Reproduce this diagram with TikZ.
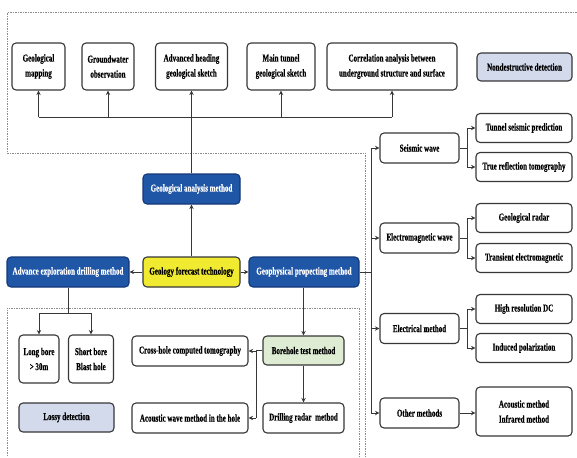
\documentclass[tikz,border=0pt]{standalone}
\usepackage{fontspec}
\setmainfont{Liberation Serif}[FakeStretch=0.67,BoldFeatures={FakeBold=0.4}]
\usepackage{tikz}
\usetikzlibrary{arrows.meta,positioning,calc}
\definecolor{darkblue}{RGB}{32,86,166}
\definecolor{edgeblue}{RGB}{20,55,120}
\definecolor{lemon}{RGB}{240,234,48}
\definecolor{palegreen}{RGB}{222,236,212}
\definecolor{paleblue}{RGB}{210,218,236}
\definecolor{framegray}{RGB}{55,55,55}
\definecolor{dashgray}{RGB}{140,140,140}

\begin{document}
\begin{tikzpicture}[x=1pt,y=-1pt,
 every node/.style={font=\fontsize{10.5}{15}\selectfont\bfseries,align=center,inner sep=2pt},
 box/.style={draw=framegray,line width=1.1pt,rounded corners=4pt,fill=white,
             minimum width=#1,minimum height=30pt},
 box/.default=79pt,
 tallbox/.style={box=#1,minimum height=47pt},
 bluebox/.style={box=#1,fill=darkblue,draw=edgeblue,text=white},
 zone/.style={draw=dashgray,line width=1pt,dash pattern=on 1.5pt off 1pt},
 arrow/.style={-{Stealth[length=4.5pt,width=4.5pt]},line width=0.9pt,draw=framegray},
 link/.style={line width=0.9pt,draw=framegray}]
 \useasboundingbox (0,0) rectangle (577,457);
 % detection zones
 \draw[zone] (365,457) -- (365,153) -- (7,153) -- (7,13) -- (577,13);
 \draw[zone] (359,457) -- (359,308) -- (7,308) -- (7,457);
 % geological analysis branch
 \node[tallbox=53pt] (map) at (38.5,66.5) {Geological\\mapping};
 \node[tallbox=52pt] (water) at (108,66.5) {Groundwater\\observation};
 \node[tallbox=72pt] (heading) at (191.5,66.5) {Advanced heading\\geological sketch};
 \node[tallbox=68pt] (tunnel) at (281,66.5) {Main tunnel\\geological sketch};
 \node[tallbox=130pt] (corr) at (392,66.5) {Correlation analysis between\\underground structure and surface};
 \node[box=95pt,minimum height=28pt,fill=paleblue] (nondes) at (524.5,67) {Nondestructive detection};
 \node[bluebox=97pt] (analysis) at (191.5,189) {Geological analysis method};
 \node[box=97pt,fill=lemon] (forecast) at (191.5,272) {Geology forecast technology};
 \node[bluebox=122pt] (drill) at (68,272) {Advance exploration drilling method};
 \node[bluebox=110pt] (geo) at (304,272) {Geophysical propecting method};
 % geophysical categories
 \node[box] (seismic) at (419.5,148) {Seismic wave};
 \node[box] (em) at (419.5,238) {Electromagnetic wave};
 \node[box] (elec) at (419.5,328.5) {Electrical method};
 \node[box] (other) at (419.5,413) {Other methods};
 \node[box=96pt,minimum height=29pt] (tsp) at (524,128) {Tunnel seismic prediction};
 \node[box=96pt,minimum height=29pt] (trt) at (524,167) {True reflection tomography};
 \node[box=96pt,minimum height=29pt] (radar) at (524,218) {Geological radar};
 \node[box=96pt,minimum height=29pt] (tem) at (524,258) {Transient electromagnetic};
 \node[box=96pt,minimum height=29pt] (hrdc) at (524,309) {High resolution DC};
 \node[box=96pt,minimum height=29pt] (ip) at (524,348) {Induced polarization};
 \node[tallbox=96pt,minimum height=49pt] (acou) at (524,411.5) {Acoustic method\\Infrared method};
 % lossy detection zone
 \node[tallbox=40pt,minimum height=48pt] (long) at (39,359) {Long bore\\> 30m};
 \node[tallbox=45pt,minimum height=48pt] (short) at (91,359) {Short bore\\Blast hole};
 \node[box=95pt,minimum height=29pt,fill=paleblue] (lossy) at (66.5,417.5) {Lossy detection};
 \node[box=116pt] (cross) at (190,351) {Cross-hole computed tomography};
 \node[box=116pt] (acwave) at (190,418) {Acoustic wave method in the hole};
 \node[box=81pt,minimum height=29pt,fill=palegreen] (bore) at (303.5,350.5) {Borehole test method};
 \node[box=81pt] (dradar) at (303.5,418) {Drilling radar~~method};
 % connectors
 \coordinate (bus) at (0,117);
 \draw[link] (map.south|-bus) -- (corr.south|-bus);
 \foreach \n in {map,water,tunnel,corr}
   \draw[arrow] (\n.south|-bus) -- (\n.south);
 \draw[arrow] (analysis.north) -- (heading.south);
 \draw[arrow] (forecast.north) -- (analysis.south);
 \draw[arrow] (forecast.west) -- (drill.east);
 \draw[arrow] (forecast.east) -- (geo.west);
 \coordinate (trunk) at (371,0);
 \draw[link] (geo.east) -- (trunk|-geo.east);
 \draw[link] (trunk|-seismic.west) -- (trunk|-other.west);
 \foreach \n in {seismic,em,elec,other}
   \draw[arrow] (trunk|-\n.west) -- (\n.west);
 \coordinate (fork) at (467,0);
 \foreach \a/\b/\c in {seismic/tsp/trt,em/radar/tem,elec/hrdc/ip}{
   \draw[link] (\a.east) -- (fork|-\a.east);
   \draw[link] (fork|-\b.west) -- (fork|-\c.west);
   \draw[arrow] (fork|-\b.west) -- (\b.west);
   \draw[arrow] (fork|-\c.west) -- (\c.west);
 }
 \draw[arrow] (other.east) -- (acou.west|-other.east);
 \coordinate (split) at (0,313);
 \draw[link] (drill.south) -- (drill.south|-split);
 \draw[link] (long.north|-split) -- (short.north|-split);
 \draw[arrow] (long.north|-split) -- (long.north);
 \draw[arrow] (short.north|-split) -- (short.north);
 \draw[arrow] (bore.north|-geo.south) -- (bore.north);
 \draw[arrow] (bore.south) -- (dradar.north);
 \coordinate (hole) at (256,0);
 \draw[link] (bore.west) -- (hole|-bore.west) -- (hole|-acwave.east);
 \draw[arrow] (hole|-cross.east) -- (cross.east);
 \draw[arrow] (hole|-acwave.east) -- (acwave.east);
\end{tikzpicture}
\end{document}
